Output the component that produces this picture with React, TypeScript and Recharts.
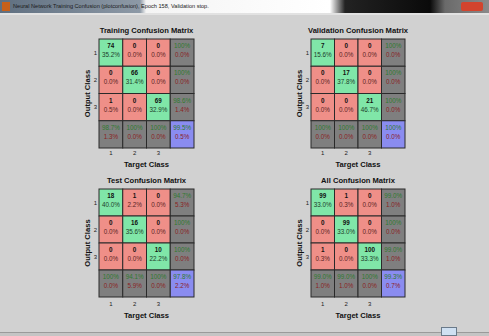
import React from 'react';
import { ScatterChart, Scatter, XAxis, YAxis } from 'recharts';

const classTicks = [1, 2, 3];

const trainingCounts = [[74, 0, 0], [0, 66, 0], [1, 0, 69]];
const trainingPercents = [['35.2%', '0.0%', '0.0%'], ['0.0%', '31.4%', '0.0%'], ['0.5%', '0.0%', '32.9%']];
const trainingRowAcc = ['100%', '100%', '98.6%'];
const trainingRowErr = ['0.0%', '0.0%', '1.4%'];
const trainingColAcc = ['98.7%', '100%', '100%'];
const trainingColErr = ['1.3%', '0.0%', '0.0%'];
const trainingTotal = ['99.5%', '0.5%'];

const validationCounts = [[7, 0, 0], [0, 17, 0], [0, 0, 21]];
const validationPercents = [['15.6%', '0.0%', '0.0%'], ['0.0%', '37.8%', '0.0%'], ['0.0%', '0.0%', '46.7%']];
const validationRowAcc = ['100%', '100%', '100%'];
const validationRowErr = ['0.0%', '0.0%', '0.0%'];
const validationColAcc = ['100%', '100%', '100%'];
const validationColErr = ['0.0%', '0.0%', '0.0%'];
const validationTotal = ['100%', '0.0%'];

const testCounts = [[18, 1, 0], [0, 16, 0], [0, 0, 10]];
const testPercents = [['40.0%', '2.2%', '0.0%'], ['0.0%', '35.6%', '0.0%'], ['0.0%', '0.0%', '22.2%']];
const testRowAcc = ['94.7%', '100%', '100%'];
const testRowErr = ['5.3%', '0.0%', '0.0%'];
const testColAcc = ['100%', '94.1%', '100%'];
const testColErr = ['0.0%', '5.9%', '0.0%'];
const testTotal = ['97.8%', '2.2%'];

const allCounts = [[99, 1, 0], [0, 99, 0], [1, 0, 100]];
const allPercents = [['33.0%', '0.3%', '0.0%'], ['0.0%', '33.0%', '0.0%'], ['0.3%', '0.0%', '33.3%']];
const allRowAcc = ['99.0%', '100%', '99.0%'];
const allRowErr = ['1.0%', '0.0%', '1.0%'];
const allColAcc = ['99.0%', '99.0%', '100%'];
const allColErr = ['1.0%', '1.0%', '0.0%'];
const allTotal = ['99.3%', '0.7%'];

const FONT = '"Liberation Sans", Arial, sans-serif';
const GREEN = '#80e6a8';
const RED = '#ef8f88';
const GRAY = '#7f7f7f';
const BLUE = '#8a8cf0';
const OK_TEXT = '#2f7a2f';
const ERR_TEXT = '#8a1f1f';

type Cell = { x: number; y: number; top: string; bottom: string; kind: string };

function buildCells(
  counts: number[][], pcts: string[][], rowAcc: string[], rowErr: string[],
  colAcc: string[], colErr: string[], total: string[]
): Cell[] {
  const cells: Cell[] = [];
  for (let r = 0; r < 3; r++) {
    for (let c = 0; c < 3; c++) {
      cells.push({ x: c + 1, y: r + 1, top: String(counts[r][c]), bottom: pcts[r][c], kind: r === c ? 'diag' : 'off' });
    }
    cells.push({ x: 4, y: r + 1, top: rowAcc[r], bottom: rowErr[r], kind: 'sum' });
  }
  for (let c = 0; c < 3; c++) {
    cells.push({ x: c + 1, y: 4, top: colAcc[c], bottom: colErr[c], kind: 'sum' });
  }
  cells.push({ x: 4, y: 4, top: total[0], bottom: total[1], kind: 'total' });
  return cells;
}

const makeShape = (w: number, h: number) => (props: any) => {
  const { cx, cy, payload } = props;
  const kind = payload.kind;
  const fill = kind === 'diag' ? GREEN : kind === 'off' ? RED : kind === 'sum' ? GRAY : BLUE;
  const isCount = kind === 'diag' || kind === 'off';
  const topColor = isCount ? '#111' : OK_TEXT;
  const bottomColor = kind === 'diag' ? '#1d3d2a' : kind === 'off' ? '#5a2424' : ERR_TEXT;
  return (
    <g>
      <rect x={cx - w / 2} y={cy - h / 2} width={w} height={h} fill={fill} stroke="#2a2a2a" strokeWidth={1} />
      <text x={cx} y={cy - 4.6} textAnchor="middle" fontSize={6.3} fontFamily={FONT}
        fontWeight={isCount ? 'bold' : 'normal'} fill={topColor}>{payload.top}</text>
      <text x={cx} y={cy + 4.6} textAnchor="middle" fontSize={6.3} fontFamily={FONT}
        fill={bottomColor}>{payload.bottom}</text>
    </g>
  );
};

const XLabel = (props: any) => {
  const { viewBox, value, off } = props;
  return (
    <text x={viewBox.x + viewBox.width / 2} y={viewBox.y + off} textAnchor="middle" dominantBaseline="central"
      fontSize={7.6} fontWeight="bold" fontFamily={FONT} fill="#111">{value}</text>
  );
};

const YLabel = (props: any) => {
  const { viewBox, value } = props;
  const x = viewBox.x + viewBox.width - 12;
  const y = viewBox.y + viewBox.height / 2;
  return (
    <text x={x} y={y} textAnchor="middle" dominantBaseline="central" transform={`rotate(-90, ${x}, ${y})`}
      fontSize={7.6} fontWeight="bold" fontFamily={FONT} fill="#111">{value}</text>
  );
};

type PanelProps = {
  title: string; cells: Cell[]; gridLeft: number; gridTop: number; gridW: number; gridH: number;
  tickMargin: number; labelOff: number;
};

function Panel({ title, cells, gridLeft, gridTop, gridW, gridH, tickMargin, labelOff }: PanelProps) {
  const chartLeft = gridLeft - 29;
  const chartTop = gridTop - 17;
  const width = 29 + gridW + 6;
  const height = 17 + gridH + 26;
  return (
    <>
      <div style={{
        position: 'absolute', left: gridLeft - 20, top: gridTop - 13, width: gridW + 40, height: 10,
        lineHeight: '10px', textAlign: 'center', fontSize: 7.6, fontWeight: 'bold', fontFamily: FONT, color: '#111',
        whiteSpace: 'nowrap',
      }}>{title}</div>
      <div style={{ position: 'absolute', left: chartLeft, top: chartTop }}>
        <ScatterChart width={width} height={height} margin={{ top: 17, right: 6, bottom: 0, left: 9 }}>
          <XAxis type="number" dataKey="x" domain={[0.5, 4.5]} ticks={classTicks} axisLine={false} tickLine={false}
            tickSize={0} tickMargin={tickMargin} height={26} interval={0}
            tick={{ fontSize: 6, fill: '#222', fontFamily: FONT }}
            label={<XLabel value="Target Class" off={labelOff} />} />
          <YAxis type="number" dataKey="y" domain={[0.5, 4.5]} ticks={classTicks} reversed axisLine={false} tickLine={false}
            tickSize={0} tickMargin={2} width={20} interval={0}
            tick={{ fontSize: 6, fill: '#222', fontFamily: FONT }}
            label={<YLabel value="Output Class" />} />
          <Scatter data={cells} isAnimationActive={false} shape={makeShape(gridW / 4, gridH / 4)} />
        </ScatterChart>
      </div>
    </>
  );
}

const trainingCells = buildCells(trainingCounts, trainingPercents, trainingRowAcc, trainingRowErr, trainingColAcc, trainingColErr, trainingTotal);
const validationCells = buildCells(validationCounts, validationPercents, validationRowAcc, validationRowErr, validationColAcc, validationColErr, validationTotal);
const testCells = buildCells(testCounts, testPercents, testRowAcc, testRowErr, testColAcc, testColErr, testTotal);
const allCells = buildCells(allCounts, allPercents, allRowAcc, allRowErr, allColAcc, allColErr, allTotal);

export default function App() {
  return (
    <div style={{ position: 'fixed', left: 0, top: 0, width: 489, height: 336, background: '#d1d1d1', overflow: 'hidden', fontFamily: FONT }}>
      {/* title bar */}
      <div style={{
        position: 'absolute', left: 0, top: 0, width: 489, height: 13,
        background: 'linear-gradient(to right, #5f6f80 0px, #8d99a6 140px, #f4f4f4 146px, #ffffff 330px, #222 345px, #0a0a0a 430px, #6a6a6a 445px, #8a8a8a 489px)',
      }} />
      <div style={{ position: 'absolute', left: 2, top: 2, width: 8, height: 9, background: '#c8601a' }} />
      <div style={{
        position: 'absolute', left: 13, top: 0, height: 13, lineHeight: '13px', fontSize: 5.6, color: '#1a1a1a',
        whiteSpace: 'nowrap', fontFamily: FONT,
      }}>Neural Network Training Confusion (plotconfusion), Epoch 158, Validation stop.</div>
      <div style={{ position: 'absolute', left: 461, top: 2, width: 22, height: 9, background: '#d2442e', borderRadius: 2 }} />
      <div style={{ position: 'absolute', left: 0, top: 13, width: 489, height: 2, background: '#e2e2e2' }} />

      <Panel title="Training Confusion Matrix" cells={trainingCells} gridLeft={99} gridTop={39} gridW={95} gridH={109} tickMargin={3} labelOff={16} />
      <Panel title="Validation Confusion Matrix" cells={validationCells} gridLeft={311} gridTop={39} gridW={94} gridH={109} tickMargin={3} labelOff={16} />
      <Panel title="Test Confusion Matrix" cells={testCells} gridLeft={99} gridTop={189} gridW={95} gridH={108} tickMargin={5} labelOff={18} />
      <Panel title="All Confusion Matrix" cells={allCells} gridLeft={311} gridTop={189} gridW={94} gridH={108} tickMargin={5} labelOff={18} />

      {/* bottom edge */}
      <div style={{ position: 'absolute', left: 0, top: 332, width: 489, height: 1, background: '#9a9a9a' }} />
      <div style={{ position: 'absolute', left: 0, top: 333, width: 489, height: 3, background: '#c4c4c4' }} />
      <div style={{ position: 'absolute', left: 441, top: 327, width: 16, height: 9, background: '#cfe0f2', border: '1px solid #6a7a8a', boxSizing: 'border-box' }} />
    </div>
  );
}
